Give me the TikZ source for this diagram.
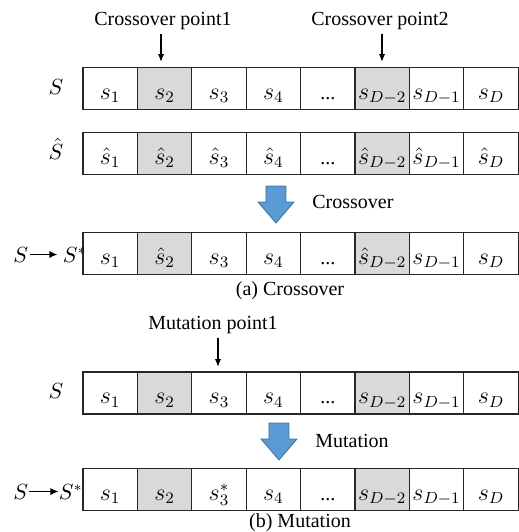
\documentclass[tikz,border=0pt]{standalone}
\usepackage[no-math]{fontspec}
\setmainfont{Liberation Serif}
\usetikzlibrary{arrows.meta, positioning}

\definecolor{cellgray}{HTML}{D9D9D9}
\definecolor{opblue}{HTML}{5B9BD5}
\definecolor{opedge}{HTML}{41719C}

\begin{document}
\begin{tikzpicture}[
        x=0.5pt, y=-0.5pt,
        cell/.style={draw=black!85, line width=0.6pt, minimum width=27.2pt, minimum height=21pt,
            inner sep=0pt, text height=11.5pt, text depth=1pt, font=\large},
        gcell/.style={cell, fill=cellgray},
        rowlbl/.style={inner sep=0pt, font=\fontsize{10.5}{12}\selectfont},
        lbl/.style={inner sep=0pt, font=\fontsize{10}{12}\selectfont},
        ptr/.style={-{Latex[length=4pt,width=3.2pt]}, line width=0.7pt, shorten <=2pt},
        toarrow/.style={-{Latex[length=4pt,width=3.6pt]}, line width=0.7pt}
    ]

    \tikzset{
    opfill/.style={fill=opblue, draw=opedge, line width=0.4pt},
    pics/dnarrow/.style={code={
        \draw[opfill] (-10,0) -- (10,0) -- (10,16) -- (18,16) -- (0,37) -- (-18,16) -- (-10,16) -- cycle;}}
}

    \useasboundingbox (0,0) rectangle (519,532);

    % (a) crossover
    \node[lbl, anchor=base] (cp1) at (163,25) {Crossover point1};
    \node[lbl, anchor=base] (cp2) at (380,25) {Crossover point2};
    \coordinate (t1) at (161,62);
    \coordinate (t2) at (382,62);
    \draw[ptr] (t1 |- cp1.south) -- (t1);
    \draw[ptr] (t2 |- cp2.south) -- (t2);

    \node[rowlbl, anchor=base] (la) at (56,94) {$S$};
    \foreach \i/\t/\st in {1/{$s_1$}/cell, 2/{$s_2$}/gcell, 3/{$s_3$}/cell, 4/{$s_4$}/cell,
            5/{\normalsize...}/cell, 6/{$s_{D-2}$}/gcell, 7/{$s_{D-1}$}/cell, 8/{$s_D$}/cell}
        \node[\st] (a\i) at ({83+54.4*(\i-0.5)},88.5) {\t};

    \node[rowlbl, anchor=base] (lb) at (56,159) {$\hat{S}$};
    \foreach \i/\t/\st in {1/{$\hat{s}_1$}/cell, 2/{$\hat{s}_2$}/gcell, 3/{$\hat{s}_3$}/cell, 4/{$\hat{s}_4$}/cell,
            5/{\normalsize...}/cell, 6/{$\hat{s}_{D-2}$}/gcell, 7/{$\hat{s}_{D-1}$}/cell, 8/{$\hat{s}_D$}/cell}
        \node[\st] (b\i) at ({83+54.4*(\i-0.5)},153.5) {\t};

    \pic at (276,186) {dnarrow};
    \node[lbl, anchor=base west] (xo) at (312,208) {Crossover};

    \node[rowlbl, anchor=base west] (lc) at (13,262) {$S$};
    \node[rowlbl] (lcs) [base right=17pt of lc] {$S^*$};
    \draw[toarrow, shorten <=1pt, shorten >=2.5pt] (lc.east) -- (lc.east -| lcs.west);
    \foreach \i/\t/\st in {1/{$s_1$}/cell, 2/{$\hat{s}_2$}/gcell, 3/{$s_3$}/cell, 4/{$s_4$}/cell,
            5/{\normalsize...}/cell, 6/{$\hat{s}_{D-2}$}/gcell, 7/{$s_{D-1}$}/cell, 8/{$s_D$}/cell}
        \node[\st] (c\i) at ({83+54.4*(\i-0.5)},253.5) {\t};
    \node[lbl, anchor=base] (capa) at (290,295) {(a) Crossover};

    % (b) mutation
    \node[lbl, anchor=base] (mp1) at (213,329) {Mutation point1};
    \coordinate (t3) at (218,367);
    \draw[ptr] (t3 |- mp1.south) -- (t3);

    \node[rowlbl, anchor=base] (ld) at (56,398.5) {$S$};
    \foreach \i/\t/\st in {1/{$s_1$}/cell, 2/{$s_2$}/gcell, 3/{$s_3$}/cell, 4/{$s_4$}/cell,
            5/{\normalsize...}/cell, 6/{$s_{D-2}$}/gcell, 7/{$s_{D-1}$}/cell, 8/{$s_D$}/cell}
        \node[\st] (d\i) at ({83+54.4*(\i-0.5)},393) {\t};

    \pic at (279,423) {dnarrow};
    \node[lbl, anchor=base west] (mu) at (315,447) {Mutation};

    \node[rowlbl, anchor=base west] (le) at (13,499) {$S$};
    \node[rowlbl] (les) [base right=15pt of le] {$S^*$};
    \draw[toarrow, shorten <=0.5pt] (le.east) -- (le.east -| les.west);
    \foreach \i/\t/\st in {1/{$s_1$}/cell, 2/{$s_2$}/gcell, 3/{$s_3^*$}/cell, 4/{$s_4$}/cell,
            5/{\normalsize...}/cell, 6/{$s_{D-2}$}/gcell, 7/{$s_{D-1}$}/cell, 8/{$s_D$}/cell}
        \node[\st] (e\i) at ({83+54.4*(\i-0.5)},489.5) {\t};
    \node[lbl, anchor=base] (capb) at (300,527) {(b) Mutation};
\end{tikzpicture}
\end{document}
